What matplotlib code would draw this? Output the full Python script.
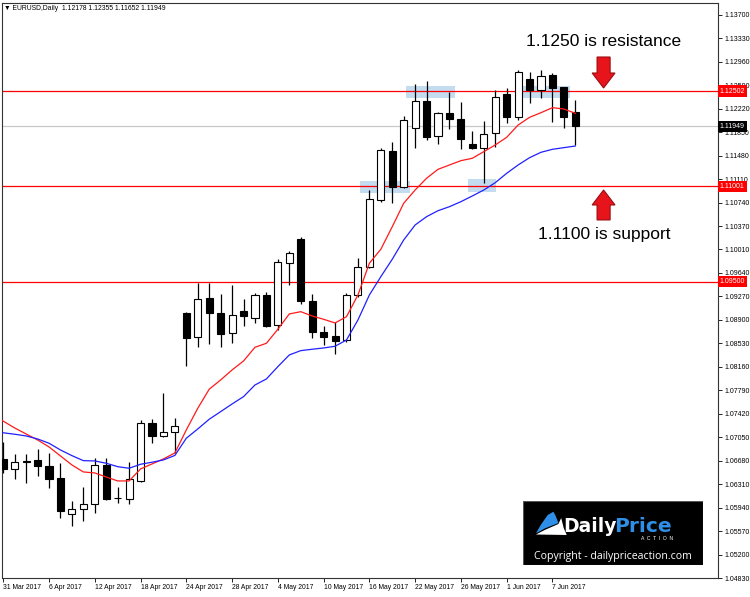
import matplotlib.pyplot as plt
from matplotlib.patches import Rectangle, Polygon

plt.rcParams['font.family'] = ['Liberation Sans', 'DejaVu Sans']

# daily EURUSD candles, 31 Mar 2017 .. 9 Jun 2017 (bar index 0..50)
opens = [1.06706, 1.06553, 1.06658, 1.06690, 1.06595, 1.06406, 1.05839, 1.05918, 1.05997, 1.06611,
         1.06083, 1.06076, 1.06359, 1.07273, 1.07068, 1.07131, 1.09006, 1.08632, 1.09242, 1.09006,
         1.08686, 1.09037, 1.08922, 1.09284, 1.08821, 1.09789, 1.10171, 1.09195, 1.08702, 1.08643,
         1.08580, 1.09284, 1.09725, 1.10786, 1.11558, 1.10995, 1.11925, 1.12350, 1.11794, 1.12161,
         1.12057, 1.11663, 1.11600, 1.11836, 1.12451, 1.12088, 1.12687, 1.12519, 1.12755, 1.12561,
         1.12178]
highs = [1.06973, 1.06784, 1.06784, 1.06863, 1.06800, 1.06643, 1.06044, 1.06265, 1.06721, 1.06721,
         1.06265, 1.06658, 1.07320, 1.07336, 1.07745, 1.07352, 1.09022, 1.09483, 1.09483, 1.09305,
         1.09447, 1.09221, 1.09316, 1.09341, 1.09852, 1.09982, 1.10198, 1.09305, 1.08806, 1.08864,
         1.09316, 1.09867, 1.10943, 1.11600, 1.11704, 1.12109, 1.12613, 1.12665, 1.12177, 1.12492,
         1.12334, 1.11877, 1.12035, 1.12519, 1.12545, 1.12834, 1.12807, 1.12834, 1.12782, 1.12571,
         1.12355]
lows = [1.06485, 1.06391, 1.06328, 1.06438, 1.06249, 1.05776, 1.05650, 1.05729, 1.05855, 1.06060,
        1.06013, 1.05997, 1.06343, 1.06958, 1.07052, 1.06800, 1.08171, 1.08475, 1.08513, 1.08475,
        1.08538, 1.08801, 1.08843, 1.08780, 1.08738, 1.09447, 1.09147, 1.08607, 1.08502, 1.08355,
        1.08553, 1.09262, 1.09709, 1.10759, 1.10734, 1.10980, 1.11600, 1.11731, 1.11663, 1.11904,
        1.11584, 1.11589, 1.11058, 1.11625, 1.11994, 1.12046, 1.12318, 1.12388, 1.12019, 1.11915,
        1.11652]
closes = [1.06548, 1.06654, 1.06674, 1.06595, 1.06391, 1.05887, 1.05918, 1.05997, 1.06611, 1.06076,
          1.06091, 1.06391, 1.07273, 1.07068, 1.07131, 1.07226, 1.08612, 1.09226, 1.09010, 1.08670,
          1.08969, 1.08954, 1.09284, 1.08796, 1.09804, 1.09955, 1.09195, 1.08711, 1.08632, 1.08569,
          1.09284, 1.09725, 1.10797, 1.11573, 1.10995, 1.12046, 1.12350, 1.11783, 1.12151, 1.12066,
          1.11751, 1.11600, 1.11821, 1.12404, 1.12098, 1.12807, 1.12519, 1.12739, 1.12545, 1.12098,
          1.11949]

# moving averages (bar index -1..50)
ma_fast = [1.07419, 1.07301, 1.07194, 1.07099, 1.07005, 1.06895, 1.06753, 1.06611, 1.06501, 1.06485,
           1.06422, 1.06359, 1.06359, 1.06548, 1.06627, 1.06706, 1.06800, 1.07163, 1.07504, 1.07804,
           1.07950, 1.08108, 1.08249, 1.08465, 1.08528, 1.08749, 1.08990, 1.09026, 1.08958, 1.08906,
           1.08848, 1.08947, 1.09289, 1.09789, 1.10009, 1.10365, 1.10734, 1.10943, 1.11128, 1.11269,
           1.11337, 1.11405, 1.11443, 1.11547, 1.11652, 1.11773, 1.11967, 1.12088, 1.12161, 1.12240,
           1.12219, 1.12151]
ma_slow = [1.07147, 1.07118, 1.07095, 1.07068, 1.07021, 1.06953, 1.06847, 1.06758, 1.06679, 1.06674,
           1.06638, 1.06584, 1.06559, 1.06622, 1.06654, 1.06690, 1.06761, 1.07032, 1.07178, 1.07331,
           1.07451, 1.07572, 1.07687, 1.07871, 1.07966, 1.08160, 1.08344, 1.08412, 1.08434, 1.08454,
           1.08481, 1.08580, 1.08895, 1.09289, 1.09577, 1.09852, 1.10156, 1.10392, 1.10523, 1.10617,
           1.10680, 1.10759, 1.10849, 1.10943, 1.11058, 1.11206, 1.11337, 1.11452, 1.11537, 1.11584,
           1.11610, 1.11636]

levels = [1.12502, 1.11001, 1.09500]
last_price = 1.11949

date_ticks = [0, 4, 8, 12, 16, 20, 24, 28, 32, 36, 40, 44, 48]
date_labels = ["31 Mar 2017", "6 Apr 2017", "12 Apr 2017", "18 Apr 2017", "24 Apr 2017",
               "28 Apr 2017", "4 May 2017", "10 May 2017", "16 May 2017", "22 May 2017",
               "26 May 2017", "1 Jun 2017", "7 Jun 2017"]
price_ticks = [1.04830, 1.05200, 1.05570, 1.05940, 1.06310, 1.06680, 1.07050, 1.07420, 1.07790,
               1.08160, 1.08530, 1.08900, 1.09270, 1.09640, 1.10010, 1.10370, 1.10740, 1.11110,
               1.11480, 1.11850, 1.12220, 1.12590, 1.12960, 1.13330, 1.13700]

# highlighted zones (bar index from/to, price from/to)
zones = [(35.2, 39.5, 1.12397, 1.12582), (45.2, 49.5, 1.12397, 1.12582),
         (31.2, 35.55, 1.10901, 1.11090), (40.6, 43.07, 1.10917, 1.11112)]

fig = plt.figure(figsize=(7.5, 5.97), dpi=100)
ax = fig.add_axes([2 / 750, 19 / 597, 716 / 750, 575 / 597])
ax.set_xlim(-0.11, 62.47)
ax.set_ylim(1.04831, 1.13889)

for x0, x1, y0, y1 in zones:
    ax.add_patch(Rectangle((x0, y0), x1 - x0, y1 - y0, facecolor='#c4dcef', edgecolor='none', zorder=1))

for lv in levels:
    ax.axhline(lv, color='#ff0000', lw=0.9, zorder=2)
ax.axhline(last_price, color='#c8c8c8', lw=0.9, zorder=2)

idx = list(range(len(opens)))
ax.vlines(idx, lows, highs, color='black', lw=0.9, zorder=3)
bottoms = [min(o, c) for o, c in zip(opens, closes)]
heights = [max(abs(c - o), 0.00004) for o, c in zip(opens, closes)]
fills = ['white' if c >= o else 'black' for o, c in zip(opens, closes)]
ax.bar(idx, heights, bottom=bottoms, width=0.62, color=fills, edgecolor='black', linewidth=0.8, zorder=4)

ma_x = list(range(-1, len(opens)))
ax.plot(ma_x, ma_fast, color='#ff1a1a', lw=0.9, zorder=5)
ax.plot(ma_x, ma_slow, color='#2020ff', lw=0.9, zorder=5)

# axes styling
ax.yaxis.tick_right()
ax.set_yticks(price_ticks)
ax.set_yticklabels([f"{p:.5f}" for p in price_ticks])
ax.set_xticks(date_ticks)
ax.set_xticklabels(date_labels, ha='left')
ax.tick_params(axis='y', length=3, width=0.6, pad=1.5, labelsize=5.0)
ax.tick_params(axis='x', length=3, width=0.6, pad=1.5, labelsize=4.9)
for sp in ax.spines.values():
    sp.set_color('#333333')
    sp.set_linewidth(0.8)

# price boxes on the right axis
for lv in levels:
    ax.text(1.0025, lv, f"{lv:.5f}", transform=ax.get_yaxis_transform(), fontsize=5.0,
            color='white', va='center', ha='left', zorder=10, clip_on=False,
            bbox=dict(boxstyle='square,pad=0.3', fc='#ff0000', ec='none'))
ax.text(1.0025, last_price, f"{last_price:.5f}", transform=ax.get_yaxis_transform(), fontsize=5.0,
        color='white', va='center', ha='left', zorder=10, clip_on=False,
        bbox=dict(boxstyle='square,pad=0.3', fc='black', ec='none'))

# annotations
ax.text(52.5, 1.13275, "1.1250 is resistance", fontsize=12.5, ha='center', va='center', zorder=6)
ax.text(52.5, 1.10234, "1.1100 is support", fontsize=12.5, ha='center', va='center', zorder=6)

ax_c, hw, sw = 52.47, 1.0, 0.57
down = [(ax_c - sw, 1.13038), (ax_c + sw, 1.13038), (ax_c + sw, 1.12786), (ax_c + hw, 1.12786),
        (ax_c, 1.12550), (ax_c - hw, 1.12786), (ax_c - sw, 1.12786)]
up = [(ax_c - sw, 1.10471), (ax_c + sw, 1.10471), (ax_c + sw, 1.10707), (ax_c + hw, 1.10707),
      (ax_c, 1.10943), (ax_c - hw, 1.10707), (ax_c - sw, 1.10707)]
for pts in (down, up):
    ax.add_patch(Polygon(pts, closed=True, facecolor='#e8141c', edgecolor='#9a0c10', lw=0.8, zorder=6))

fig.text(4 / 750, 1 - 8 / 597, "\u25bc EURUSD,Daily  1.12178 1.12355 1.11652 1.11949",
         fontsize=4.9, va='center', ha='left')

# logo box
lg = fig.add_axes([522.7 / 750, (597 - 565) / 597, 180 / 750, 64 / 597])
lg.set_xlim(0, 180)
lg.set_ylim(64, 0)
lg.axis('off')
lg.add_patch(Rectangle((0, 0), 180, 64, facecolor='black', edgecolor='#555555', lw=0.8))
lg.add_patch(Polygon([(30.7, 10.7), (25, 14), (18, 24), (13.3, 32.3), (22, 27.5), (35.7, 22), (33, 15)],
                     closed=True, facecolor='#2f8ee5', edgecolor='none'))
lg.add_patch(Polygon([(13.3, 33.5), (22, 29), (35.7, 23), (38.5, 17), (41, 27), (44, 34)],
                     closed=True, facecolor='white', edgecolor='none'))
lg.text(94, 26, "Daily", color='white', fontsize=13.5, fontweight='bold', ha='right', va='center',
        family='DejaVu Sans')
lg.text(91, 26, "Price", color='#2f8ee5', fontsize=14.5, fontweight='bold', ha='left', va='center',
        family='DejaVu Sans')
lg.text(134, 38, "A  C  T  I  O  N", color='white', fontsize=3.6, ha='center', va='center')
lg.text(90, 55, "Copyright - dailypriceaction.com", color='white', fontsize=7.6, ha='center',
        va='center', family='Open Sans')

fig.savefig('out.png', dpi=100)
